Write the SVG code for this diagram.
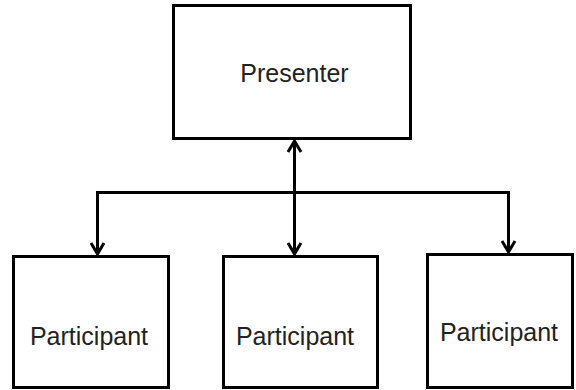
<svg xmlns="http://www.w3.org/2000/svg" width="576" height="390" viewBox="0 0 576 390">
<style>
.box{fill:#fff;stroke:#000;stroke-width:3}
.lbl{font-family:"Liberation Sans",Arial,sans-serif;font-size:25px;fill:#222;text-anchor:middle}
.ln{fill:none;stroke:#000;stroke-width:3}
</style>
<defs>
<marker id="ah" viewBox="0 0 14 16" refX="12" refY="8" markerWidth="14" markerHeight="16" markerUnits="userSpaceOnUse" orient="auto-start-reverse">
<path d="M1,1.5 L12,8 L1,14.5" fill="none" stroke="#000" stroke-width="3"/>
</marker>
</defs>
<rect width="576" height="390" fill="#fff"/>
<g id="presenter"><rect class="box" x="173.5" y="5.5" width="237" height="133"/><text class="lbl" x="294.5" y="82">Presenter</text></g>
<g id="p1"><rect class="box" x="13.5" y="256.5" width="155" height="131"/><text class="lbl" x="89" y="345">Participant</text></g>
<g id="p2"><rect class="box" x="223.5" y="256.5" width="154" height="131"/><text class="lbl" x="295" y="345">Participant</text></g>
<g id="p3"><rect class="box" x="427.5" y="254.5" width="145" height="133"/><text class="lbl" x="499" y="341">Participant</text></g>
<g id="connectors">
<path class="ln" d="M294.5,141 L294.5,254" marker-start="url(#ah)" marker-end="url(#ah)"/>
<path class="ln" d="M97.5,254 L97.5,192.5 L508.5,192.5 L508.5,252" marker-start="url(#ah)" marker-end="url(#ah)"/>
</g>
</svg>
